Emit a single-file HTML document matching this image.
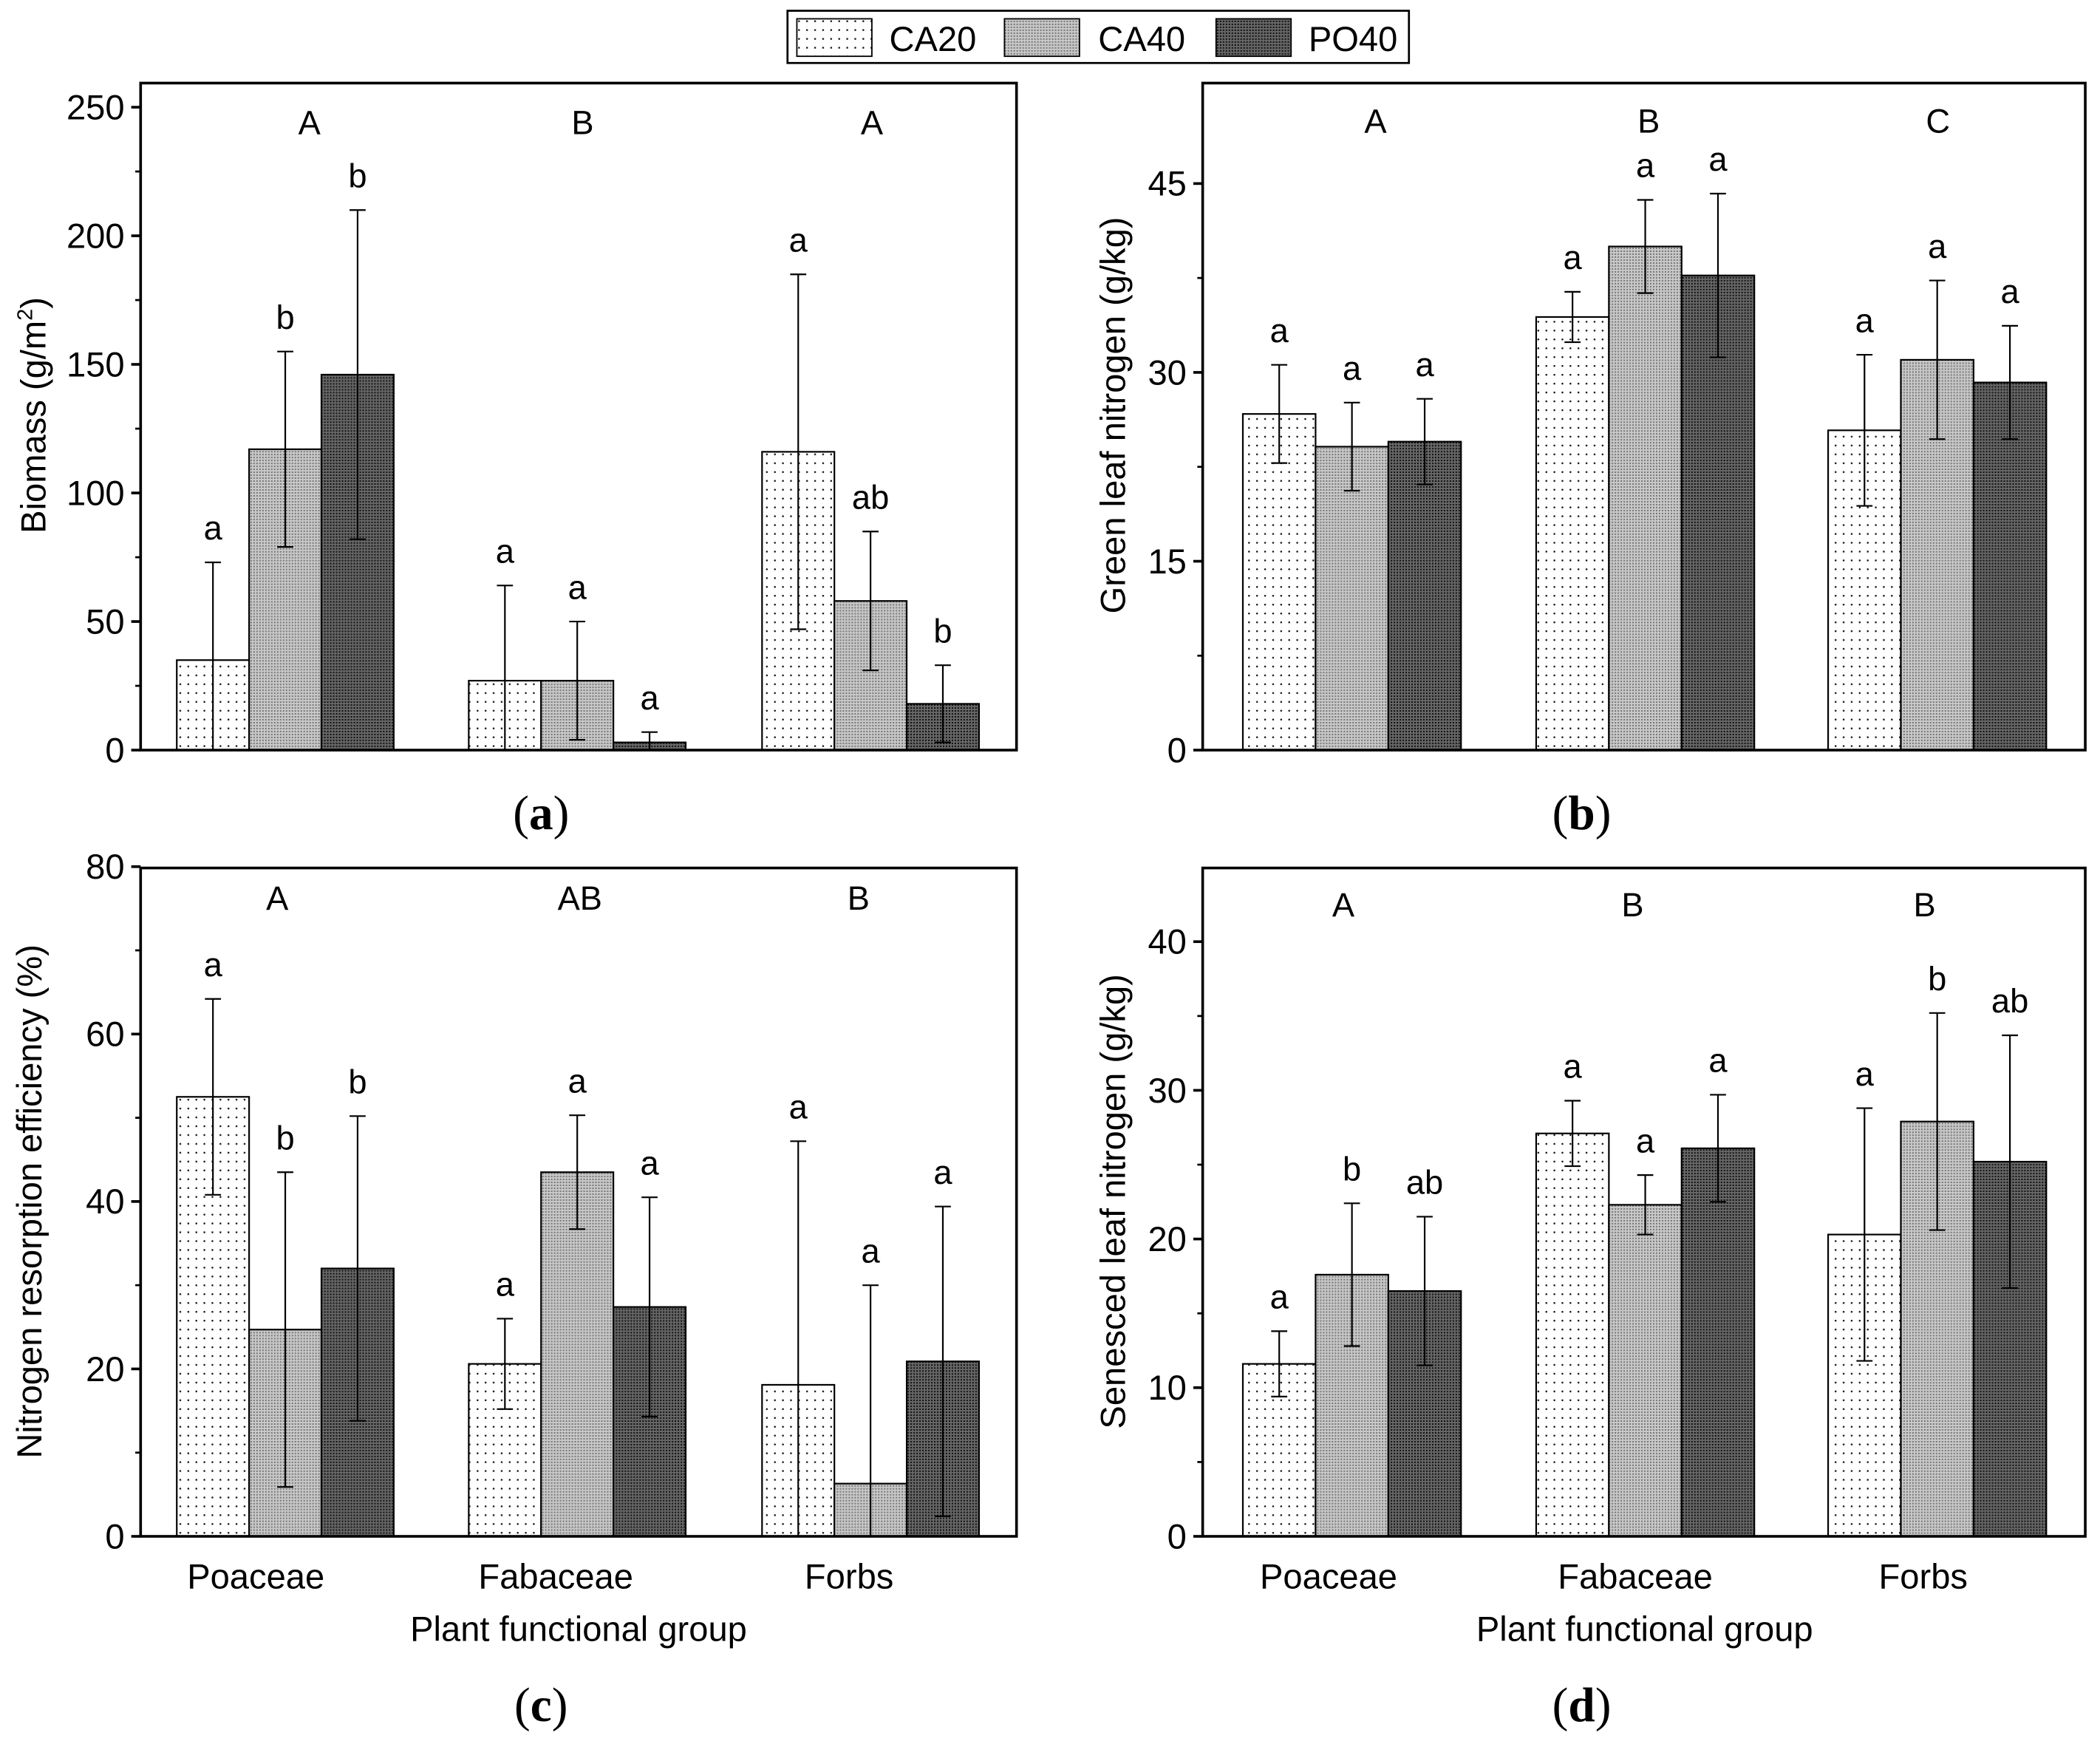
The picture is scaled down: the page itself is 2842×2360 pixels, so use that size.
<!DOCTYPE html>
<html><head><meta charset="utf-8"><style>
html,body{margin:0;padding:0;background:#fff}
svg{display:block}
text{font-family:"Liberation Sans",Arial,sans-serif;fill:#000}
text.serif{font-family:"Liberation Serif",serif}
</style></head><body>
<svg id="fig" xmlns="http://www.w3.org/2000/svg" width="2842" height="2360" viewBox="0 0 1568 1302">
<defs>
<pattern id="dots" width="6" height="6.6" patternUnits="userSpaceOnUse"><rect width="6" height="6.6" fill="#fff"/><rect x="2" y="2" width="1.2" height="1.2" fill="#000"/></pattern>
<pattern id="lt" width="2.2" height="2.2" patternUnits="userSpaceOnUse"><rect width="2.2" height="2.2" fill="#c8c8c8"/><rect width="1.1" height="1.1" fill="#777"/></pattern>
<pattern id="dk" width="2.2" height="2.2" patternUnits="userSpaceOnUse"><rect width="2.2" height="2.2" fill="#666"/><rect width="1.1" height="1.1" fill="#111"/></pattern>
</defs>
<g id="legend">
<rect x="588" y="8" width="464" height="39" fill="#fff" stroke="#000" stroke-width="1.5"/>
<g><rect x="595" y="14" width="56" height="28" fill="url(#dots)" stroke="#000"/><text x="664" y="38" font-size="26">CA20</text></g>
<g><rect x="750" y="14" width="56" height="28" fill="url(#lt)" stroke="#000"/><text x="820" y="38" font-size="26">CA40</text></g>
<g><rect x="908" y="14" width="56" height="28" fill="url(#dk)" stroke="#000"/><text x="977" y="38" font-size="26">PO40</text></g>
</g>
</svg>
<script>
const categories=["Poaceae","Fabaceae","Forbs"];
const seriesNames=["CA20","CA40","PO40"];
// panel a
const aVals=[[35,117,146],[27,27,3],[116,58,18]];
const aErr=[[38,38,64],[37,23,4],[69,27,15]];
const aLetters=[["a","b","b"],["a","a","a"],["a","ab","b"]];
const aGroups=["A","B","A"];
const aTicks=[0,50,100,150,200,250];
// panel b
const bVals=[[26.7,24.1,24.5],[34.4,40,37.7],[25.4,31,29.2]];
const bErr=[[3.9,3.5,3.4],[2,3.7,6.5],[6,6.3,4.5]];
const bLetters=[["a","a","a"],["a","a","a"],["a","a","a"]];
const bGroups=["A","B","C"];
const bTicks=[0,15,30,45];
// panel c
const cVals=[[52.5,24.7,32],[20.6,43.5,27.4],[18.1,6.3,20.9]];
const cErr=[[11.7,18.8,18.2],[5.4,6.8,13.1],[29.1,23.7,18.5]];
const cLetters=[["a","b","b"],["a","a","a"],["a","a","a"]];
const cGroups=["A","AB","B"];
const cTicks=[0,20,40,60,80];
// panel d
const dVals=[[11.6,17.6,16.5],[27.1,22.3,26.1],[20.3,27.9,25.2]];
const dErr=[[2.2,4.8,5],[2.2,2,3.6],[8.5,7.3,8.5]];
const dLetters=[["a","b","ab"],["a","a","a"],["a","b","ab"]];
const dGroups=["A","B","B"];
const dTicks=[0,10,20,30,40];

const NS="http://www.w3.org/2000/svg";
const svg=document.getElementById("fig");
const fills=["url(#dots)","url(#lt)","url(#dk)"];
function mk(tag,attrs,parent,txt){const e=document.createElementNS(NS,tag);for(const k in attrs)e.setAttribute(k,attrs[k]);if(txt!==undefined)e.textContent=txt;parent.appendChild(e);return e;}

function panel(o){
  const g=mk("g",{},svg);
  
  
  const y=v=>o.y0-v*(o.y0-o.yTop)/(o.vTop);
  const bw=o.bw;
  o.vals.forEach((grp,gi)=>{
    grp.forEach((v,si)=>{
      const x=o.starts[gi]+si*bw;
      const r=mk("rect",{x:x,y:y(v),width:bw,height:o.y0-y(v),fill:fills[si],stroke:"#000","stroke-width":1.2},g);
      
      
    });
  });
  o.vals.forEach((grp,gi)=>{
    grp.forEach((v,si)=>{
      const cx=o.starts[gi]+si*bw+bw/2;
      const e=o.errs[gi][si];
      const hi=y(v+e), lo=y(Math.max(0,v-e));
      const eg=mk("g",{stroke:"#000","stroke-width":1.2},g);
      
      
      mk("line",{x1:cx,x2:cx,y1:hi,y2:lo},eg);
      mk("line",{x1:cx-6,x2:cx+6,y1:hi,y2:hi},eg);
      if(v-e>0) mk("line",{x1:cx-6,x2:cx+6,y1:lo,y2:lo},eg);
      const t=mk("text",{x:cx,y:hi-17,"font-size":25,"text-anchor":"middle"},g,o.letters[gi][si]);
      
      
    });
    const gt=mk("text",{x:o.gX[gi],y:o.gY,"font-size":25,"text-anchor":"middle"},g,o.groups[gi]);
    
    
  });
  const f=mk("rect",{x:o.x0,y:o.boxTop,width:o.x1-o.x0,height:o.y0-o.boxTop,fill:"none",stroke:"#000","stroke-width":2},g);
  
  
  o.ticks.forEach(t=>{
    mk("line",{x1:o.x0-7,x2:o.x0,y1:y(t),y2:y(t),stroke:"#000","stroke-width":2},g);
    const tl=mk("text",{x:o.x0-12,y:y(t)+9,"font-size":26,"text-anchor":"end"},g,String(t));
    
    
  });
  for(let i=0;i<o.ticks.length-1;i++){const m=(o.ticks[i]+o.ticks[i+1])/2;mk("line",{x1:o.x0-4,x2:o.x0,y1:y(m),y2:y(m),stroke:"#000","stroke-width":1.5},g);}
  const yt=mk("text",{x:0,y:0,"font-size":26,"text-anchor":"middle",transform:`translate(${o.ytX},${o.ytY}) rotate(-90)`},g);
  
  
  yt.innerHTML=o.ytitle;
  if(o.xlab){
    categories.forEach((c,gi)=>{
      const t=mk("text",{x:o.xlab[gi],y:1186,"font-size":26,"text-anchor":"middle"},g,c);
      
      
    });
    const xt=mk("text",{x:o.xtX,y:1225,"font-size":26,"text-anchor":"middle"},g,"Plant functional group");
    
    
  }
  const pl=mk("text",{x:o.plX,y:o.plY,"font-size":36,"text-anchor":"middle","class":"serif"},g);
  
  
  pl.innerHTML='(<tspan font-weight="bold">'+o.pl+'</tspan>)';
}
panel({name:"panel-a",vals:aVals,errs:aErr,letters:aLetters,groups:aGroups,ticks:aTicks,x0:105,x1:759,boxTop:62,y0:560,yTop:80,vTop:250,bw:54,starts:[132,350,569],gX:[231,435,651],gY:100,ytX:34,ytY:310,ytitle:'Biomass (g/m<tspan font-size="16" dy="-10">2</tspan><tspan dy="10">)</tspan>',plX:404,plY:619,pl:"a"});
panel({name:"panel-b",vals:bVals,errs:bErr,letters:bLetters,groups:bGroups,ticks:bTicks,x0:898,x1:1557,boxTop:62,y0:560,yTop:137,vTop:45,bw:54.3,starts:[928,1147,1365],gX:[1027,1231,1447],gY:99,ytX:840,ytY:310,ytitle:'Green leaf nitrogen (g/kg)',plX:1181,plY:619,pl:"b"});
panel({name:"panel-c",vals:cVals,errs:cErr,letters:cLetters,groups:cGroups,ticks:cTicks,x0:105,x1:759,boxTop:648,y0:1147,yTop:647,vTop:80,bw:54,starts:[132,350,569],gX:[207,433,641],gY:679,ytX:31,ytY:897,ytitle:'Nitrogen resorption efficiency (%)',xlab:[191,415,634],xtX:432,plX:404,plY:1285,pl:"c"});
panel({name:"panel-d",vals:dVals,errs:dErr,letters:dLetters,groups:dGroups,ticks:dTicks,x0:898,x1:1557,boxTop:648,y0:1147,yTop:703,vTop:40,bw:54.3,starts:[928,1147,1365],gX:[1003,1219,1437],gY:684,ytX:840,ytY:897,ytitle:'Senesced leaf nitrogen (g/kg)',xlab:[992,1221,1436],xtX:1228,plX:1181,plY:1285,pl:"d"});
</script>
</body></html>
